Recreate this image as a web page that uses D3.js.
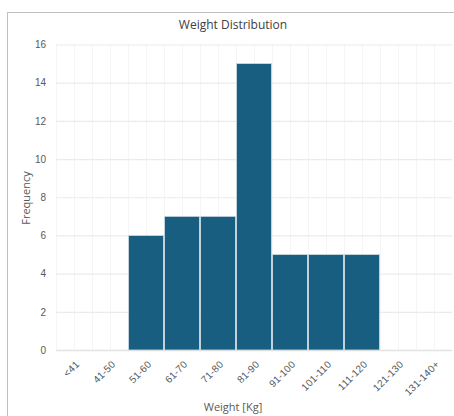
<!DOCTYPE html>
<html>
<head>
<meta charset="utf-8">
<script src="https://cdn.jsdelivr.net/npm/d3@7"></script>
<style>
  html, body { margin: 0; padding: 0; background: #fff; }
  svg { display: block; font-family: "Open Sans", "Noto Sans", sans-serif; }
</style>
</head>
<body>
<svg id="chart" width="454" height="416"></svg>
<script>
// Weight bins and their counts
const categories = ["<41", "41-50", "51-60", "61-70", "71-80", "81-90", "91-100", "101-110", "111-120", "121-130", "131-140+"];
const frequencies = [0, 0, 6, 7, 7, 15, 5, 5, 5, 0, 0];
const yTicks = [0, 2, 4, 6, 8, 10, 12, 14, 16];

const title = "Weight Distribution";
const xTitle = "Weight [Kg]";
const yTitle = "Frequency";

const svg = d3.select("#chart");
const W = 454, H = 416;
const plot = { left: 56, right: 452, top: 44.5, bottom: 350 };

// outer chart frame
svg.append("rect")
  .attr("x", 7.5).attr("y", 12.5)
  .attr("width", W + 10).attr("height", H + 10)
  .attr("fill", "#fff").attr("stroke", "#bfbfbf").attr("stroke-width", 1);

const x = d3.scaleBand().domain(categories).range([plot.left, plot.right]).padding(0);
const y = d3.scaleLinear().domain([0, 16]).range([plot.bottom, plot.top]);

// vertical minor grid: bin edges and bin centres
const vg = svg.append("g");
categories.forEach((c, i) => {
  const x0 = x(c);
  [x0, x0 + x.bandwidth() / 2].forEach(xx => {
    vg.append("line")
      .attr("x1", Math.round(xx) + 0.5).attr("x2", Math.round(xx) + 0.5)
      .attr("y1", plot.top).attr("y2", plot.bottom)
      .attr("stroke", "#f5f5f5").attr("stroke-width", 1);
  });
});

// horizontal grid from the y axis
svg.append("g")
  .attr("transform", `translate(${plot.left},0)`)
  .call(d3.axisLeft(y).tickValues(yTicks).tickSize(-(plot.right - plot.left)).tickFormat(""))
  .call(g => g.select(".domain").remove())
  .call(g => g.selectAll(".tick line")
    .attr("stroke", d => d === 0 ? "#e3e3e3" : "#ebebeb")
    .attr("stroke-width", d => d === 0 ? 1.5 : 1.2));

// bars
svg.append("g").selectAll("rect")
  .data(categories.map((c, i) => ({ c, v: frequencies[i] })).filter(d => d.v > 0))
  .join("rect")
  .attr("x", d => x(d.c) + 0.5)
  .attr("width", x.bandwidth() - 1)
  .attr("y", d => y(d.v))
  .attr("height", d => y(0) - y(d.v))
  .attr("fill", "#175e80")
  .attr("stroke", "#cfdbe3")
  .attr("stroke-width", 0.8);

// y tick labels
svg.append("g")
  .attr("transform", `translate(${plot.left - 8},0)`)
  .call(d3.axisLeft(y).tickValues(yTicks).tickSize(0).tickPadding(2))
  .call(g => g.select(".domain").remove())
  .call(g => g.selectAll("text")
    .attr("fill", "#595959")
    .style("font-size", "10px"));

// x tick labels, rotated
svg.append("g")
  .attr("transform", `translate(0,${plot.bottom})`)
  .call(d3.axisBottom(x).tickSize(0).tickPadding(0))
  .call(g => g.select(".domain").remove())
  .call(g => g.selectAll("text")
    .attr("fill", "#595959")
    .style("font-size", "10px")
    .style("letter-spacing", "0.2px")
    .attr("text-anchor", "end")
    .attr("dy", 0)
    .attr("y", 0)
    .attr("transform", "translate(6,15) rotate(-45)"));

// titles
svg.append("text")
  .attr("x", 233).attr("y", 29)
  .attr("text-anchor", "middle")
  .attr("fill", "#404040")
  .style("font-size", "12px")
  .text(title);

svg.append("text")
  .attr("x", 233).attr("y", 411)
  .attr("text-anchor", "middle")
  .attr("fill", "#595959")
  .style("font-size", "11px")
  .text(xTitle);

svg.append("text")
  .attr("transform", "translate(30,198) rotate(-90)")
  .attr("text-anchor", "middle")
  .attr("fill", "#595959")
  .style("font-size", "11px")
  .text(yTitle);
</script>
</body>
</html>
